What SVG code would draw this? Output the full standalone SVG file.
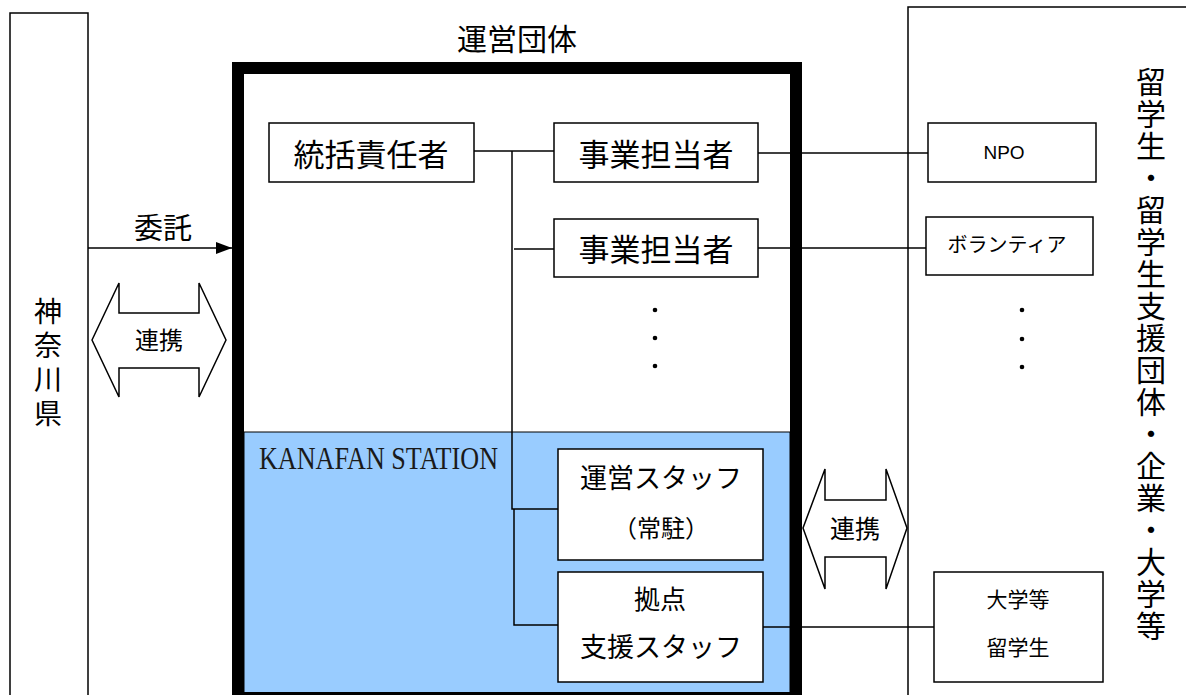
<svg xmlns="http://www.w3.org/2000/svg" width="1186" height="695" viewBox="0 0 1186 695">
<style>
.jp{font-family:"Noto Sans CJK JP","Noto Sans",sans-serif;fill:#000;text-anchor:middle}
.vt{font-family:"Noto Sans CJK JP","Noto Sans",sans-serif;fill:#000;writing-mode:vertical-rl;text-anchor:start}
.box{fill:#fff;stroke:#000;stroke-width:1.5}
.ln{fill:none;stroke:#000;stroke-width:1.5}
.dbl{fill:#fff;stroke:#000;stroke-width:1.5;stroke-linejoin:miter}
</style>
<defs>
<marker id="ah" markerWidth="16" markerHeight="12" refX="16" refY="6" orient="auto" markerUnits="userSpaceOnUse">
<path d="M0,0 L16,6 L0,12 Z" fill="#000"/>
</marker>
</defs>
<rect width="1186" height="695" fill="#fff"/>

<g id="kanagawa">
<rect x="10" y="13" width="78" height="700" class="box" stroke-width="1.3"/>
<text class="vt" font-size="28" x="48" y="297" letter-spacing="6">神奈川県</text>
</g>

<g id="partners">
<rect x="908" y="7" width="300" height="700" class="box" stroke-width="1.3"/>
<text class="vt" font-size="30" x="1151" y="67" letter-spacing="2">留学生・留学生支援団体・企業・大学等</text>
</g>

<g id="org">
<text class="jp" font-size="30" x="517" y="50">運営団体</text>
<rect x="244" y="432" width="546" height="270" fill="#99ccff" stroke="#000" stroke-width="1"/>
<rect x="238" y="68" width="558" height="630" fill="none" stroke="#000" stroke-width="12"/>
<text x="259" y="469" font-family="'Liberation Serif',serif" font-size="31" textLength="239" lengthAdjust="spacingAndGlyphs" fill="#1a1a1a">KANAFAN STATION</text>
</g>

<g id="connectors">
<line x1="88" y1="248" x2="232" y2="248" class="ln" marker-end="url(#ah)"/>
<polyline points="474,151 554,151" class="ln"/>
<polyline points="512,151 512,509 558,509" class="ln"/>
<polyline points="514,509 514,625 558,625" class="ln"/>
<polyline points="514,249 554,249" class="ln"/>
<line x1="758" y1="153" x2="928" y2="153" class="ln"/>
<line x1="758" y1="248" x2="926" y2="248" class="ln"/>
<line x1="759" y1="627" x2="934" y2="627" class="ln"/>
</g>

<g id="itaku">
<text class="jp" font-size="29" x="163" y="239">委託</text>
</g>

<g id="renkei-left">
<polygon points="92,340 119,283 119,313 199,313 199,283 226,340 199,397 199,368 119,368 119,397" class="dbl"/>
<text class="jp" font-size="24" x="159" y="349">連携</text>
</g>

<g id="renkei-right">
<polygon points="803,528 825,469 825,500 886,500 886,469 907,528 886,589 886,557 825,557 825,589" class="dbl"/>
<text class="jp" font-size="25" x="855" y="538">連携</text>
</g>

<g id="tokatsu">
<rect x="269" y="123" width="205" height="59" class="box"/>
<text class="jp" font-size="31" x="371" y="166">統括責任者</text>
</g>

<g id="jigyo1">
<rect x="554" y="123" width="204" height="59" class="box"/>
<text class="jp" font-size="31" x="656" y="166">事業担当者</text>
</g>

<g id="jigyo2">
<rect x="554" y="219" width="204" height="58" class="box"/>
<text class="jp" font-size="31" x="656" y="261">事業担当者</text>
</g>

<g id="dots-mid">
<circle cx="655" cy="310" r="2.3"/>
<circle cx="655" cy="338" r="2.3"/>
<circle cx="655" cy="366" r="2.3"/>
</g>

<g id="unei-staff">
<rect x="558" y="449" width="205" height="111" class="box"/>
<text class="jp" font-size="27" x="661" y="488">運営スタッフ</text>
<text class="jp" font-size="24" x="661" y="537">（常駐）</text>
</g>

<g id="kyoten-staff">
<rect x="558" y="572" width="205" height="110" class="box"/>
<text class="jp" font-size="26" x="660" y="609">拠点</text>
<text class="jp" font-size="27" x="661" y="657">支援スタッフ</text>
</g>

<g id="npo">
<rect x="928" y="123" width="168" height="59" class="box"/>
<text x="1004" y="159" font-family="'Liberation Sans',Arial,sans-serif" font-size="19" text-anchor="middle">NPO</text>
</g>

<g id="volunteer">
<rect x="926" y="217" width="167" height="58" class="box"/>
<text class="jp" font-size="20" x="1007" y="252">ボランティア</text>
</g>

<g id="dots-right">
<circle cx="1022" cy="310" r="2.3"/>
<circle cx="1022" cy="339" r="2.3"/>
<circle cx="1022" cy="367" r="2.3"/>
</g>

<g id="daigaku">
<rect x="934" y="572" width="169" height="110" class="box"/>
<text class="jp" font-size="21" x="1018" y="607">大学等</text>
<text class="jp" font-size="21" x="1018" y="655">留学生</text>
</g>
</svg>
